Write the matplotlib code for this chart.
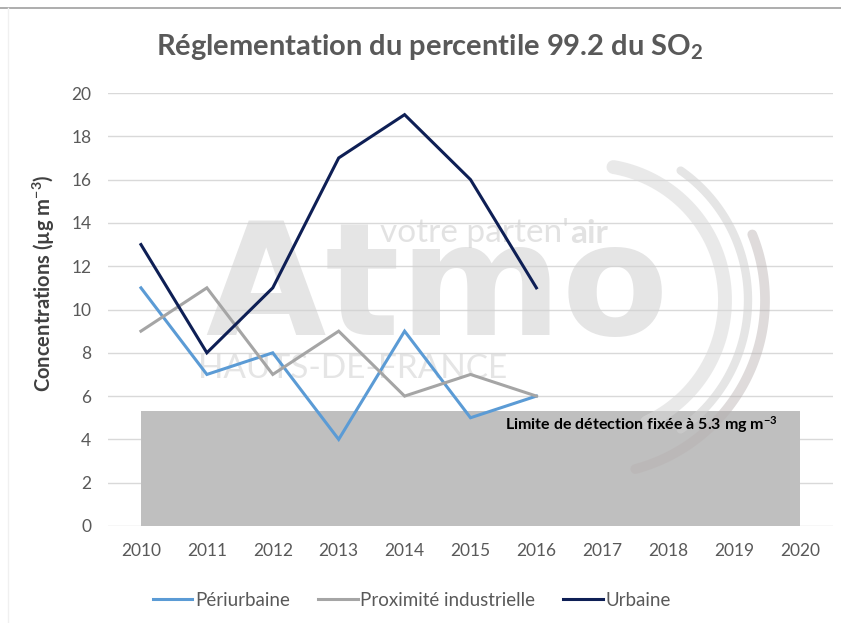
import numpy as np
import matplotlib
matplotlib.use("Agg")
import matplotlib.pyplot as plt
from matplotlib.transforms import Affine2D

plt.rcParams['font.family'] = ['Lato', 'DejaVu Sans']
plt.rcParams['mathtext.default'] = 'regular'

years = ["2010", "2011", "2012", "2013", "2014", "2015", "2016",
         "2017", "2018", "2019", "2020"]
periurbaine = [11, 7, 8, 4, 9, 5, 6]
proximite_industrielle = [9, 11, 7, 9, 6, 7, 6]
urbaine = [13, 8, 11, 17, 19, 16, 11]
limite_detection = 5.3
yticks = [0, 2, 4, 6, 8, 10, 12, 14, 16, 18, 20]

W, H = 841, 623
fig = plt.figure(figsize=(W / 100, H / 100), dpi=100)
ax = fig.add_axes([108 / W, 1 - 526 / H, (833 - 108) / W, (526 - 93) / H])

x = np.arange(len(years))

# detection-limit band
ax.fill_between([x[0], x[-1]], 0, limite_detection, color='#bfbfbf',
                linewidth=0, zorder=1)
ax.text(x[-1] - 0.33, limite_detection - 0.6,
        "Limite de détection fixée à 5.3 mg m$^{-3}$",
        ha='right', va='center', fontsize=11.5, fontweight='bold',
        color='black', zorder=5)

# pixel-space transform for the background logo
pix = Affine2D().scale(1 / W, -1 / H).translate(0, 1) + fig.transFigure

wm = '#d0d0d0'
ax.text(205, 335, "Atmo", transform=pix, fontsize=112, fontweight='bold',
        family='DejaVu Sans', color=wm, alpha=0.55, ha='left',
        va='baseline', zorder=2)
t1 = ax.text(380, 242, "votre parten'", transform=pix, fontsize=24,
             color=wm, alpha=0.6, ha='left', va='baseline', zorder=2)
ax.annotate("air", xy=(1, 0), xycoords=t1, xytext=(1, 0),
            textcoords='offset points', fontsize=24, fontweight='bold',
            color=wm, alpha=0.6, ha='left', va='bottom', zorder=2)
ax.text(198, 378, "HAUTS-DE-FRANCE", transform=pix, fontsize=24,
        color=wm, alpha=0.55, ha='left', va='baseline', zorder=2)

def arc(cx, cy, r, t0, t1, color, lw, alpha):
    t = np.radians(np.linspace(t0, t1, 100))
    ax.plot(cx + r * np.cos(t), cy - r * np.sin(t), transform=pix,
            color=color, lw=lw, alpha=alpha, solid_capstyle='round',
            zorder=2, clip_on=False)

arc(590, 300, 135, -65, 80, '#d8d8d8', 10, 0.55)
arc(590, 300, 158, -55, 55, '#d0d0d0', 6, 0.55)
arc(590, 300, 175, -75, 22, '#b8b0b0', 7, 0.45)

# series
ax.plot(x[:len(periurbaine)], periurbaine, color='#5b9bd5', lw=2.2,
        label='Périurbaine', zorder=4, solid_joinstyle='miter')
ax.plot(x[:len(proximite_industrielle)], proximite_industrielle,
        color='#a5a5a5', lw=2.2, label='Proximité industrielle', zorder=4,
        solid_joinstyle='miter')
ax.plot(x[:len(urbaine)], urbaine, color='#0e1f55', lw=2.2,
        label='Urbaine', zorder=4, solid_joinstyle='miter')

ax.set_xlim(-0.5, len(years) - 0.5)
ax.set_ylim(0, 20)
ax.set_xticks(x)
ax.set_xticklabels(years)
ax.set_yticks(yticks)
ax.tick_params(axis='both', length=0, labelsize=12.5, labelcolor='#595959')
ax.tick_params(axis='x', pad=12)
ax.tick_params(axis='y', pad=12)
ax.grid(axis='y', color='#d9d9d9', lw=1, zorder=0)
ax.set_axisbelow(True)
for s in ax.spines.values():
    s.set_visible(False)

ax.set_ylabel("Concentrations (µg m$^{-3}$)", fontsize=14.5, fontweight='bold',
              color='#404040')
ax.yaxis.set_label_coords(-0.070, 0.561)

fig.text(430 / W, 1 - 47 / H, "Réglementation du percentile 99.2 du SO$_2$",
         ha='center', va='center', fontsize=21, fontweight='bold',
         color='#595959')

fig.legend(loc='center', bbox_to_anchor=(412 / W, 1 - 600 / H), ncol=3,
           frameon=False, fontsize=13.5, handlelength=2.1, columnspacing=1.5,
           handletextpad=0.15, labelcolor='#595959')

# chart frame
fig.add_artist(plt.Line2D([0, 1], [1 - 8 / H, 1 - 8 / H],
                          transform=fig.transFigure, color='#a0a0a0', lw=1.2))
fig.add_artist(plt.Line2D([8 / W, 8 / W], [0, 1 - 8 / H],
                          transform=fig.transFigure, color='#f0f0f0', lw=1))

fig.savefig("out.png", dpi=100, facecolor='white')
